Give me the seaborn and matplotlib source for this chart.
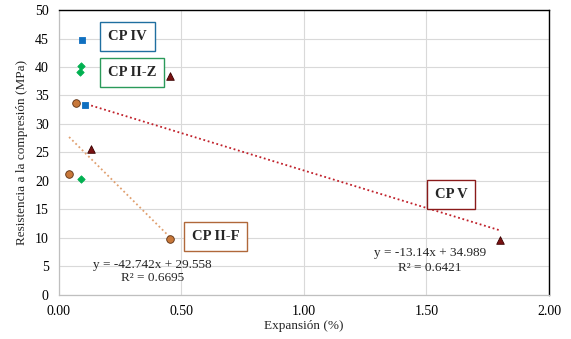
import numpy as np
import pandas as pd
import matplotlib
matplotlib.use("Agg")
import matplotlib.pyplot as plt
import seaborn as sns

# Data: expansion (%) vs. compressive strength (MPa) per cement type
cp_iv_x = [0.095, 0.106]
cp_iv_y = [44.7, 33.3]

cp_iiz_x = [0.091, 0.086, 0.092]
cp_iiz_y = [40.1, 39.2, 20.3]

cp_iif_x = [0.043, 0.072, 0.456]
cp_iif_y = [21.2, 33.7, 9.9]

cp_v_x = [0.133, 0.453, 1.80]
cp_v_y = [25.6, 38.4, 9.6]

# Linear trendlines (slope, intercept, R²)
iif_fit = (-42.742, 29.558, 0.6695)
v_fit = (-13.14, 34.989, 0.6421)

series = ["CP IV", "CP II-Z", "CP II-F", "CP V"]
colors = {"CP IV": "#1070c0", "CP II-Z": "#00b050",
          "CP II-F": "#c8783a", "CP V": "#7a1212"}
edges = {"CP IV": "#1070c0", "CP II-Z": "#00b050",
         "CP II-F": "#5a2e10", "CP V": "#3a0000"}
markers = {"CP IV": "s", "CP II-Z": "D", "CP II-F": "o", "CP V": "^"}
sizes = {"CP IV": 16, "CP II-Z": 14, "CP II-F": 30, "CP V": 30}

df = pd.concat([
    pd.DataFrame({"x": cp_iv_x, "y": cp_iv_y, "tipo": "CP IV"}),
    pd.DataFrame({"x": cp_iiz_x, "y": cp_iiz_y, "tipo": "CP II-Z"}),
    pd.DataFrame({"x": cp_iif_x, "y": cp_iif_y, "tipo": "CP II-F"}),
    pd.DataFrame({"x": cp_v_x, "y": cp_v_y, "tipo": "CP V"}),
], ignore_index=True)

sns.set_style("white")
plt.rcParams["font.family"] = ["Liberation Serif", "DejaVu Serif"]

fig = plt.figure(figsize=(5.71, 3.39), dpi=100)
ax = fig.add_axes([0.1025, 0.1298, 0.859, 0.8407])

# Trendlines drawn from the stated equations over each series' x range
for xs, fit, col in [(cp_iif_x, iif_fit, "#e0a070"), (cp_v_x, v_fit, "#c0202a")]:
    xl = np.array([min(xs), max(xs)])
    sns.lineplot(x=xl, y=fit[0] * xl + fit[1], ax=ax, color=col,
                 linestyle=(0, (1, 1.5)), linewidth=1.3, zorder=2)

for s in series:
    sub = df[df["tipo"] == s]
    sns.scatterplot(data=sub, x="x", y="y", ax=ax, marker=markers[s],
                    s=sizes[s], color=colors[s], edgecolor=edges[s],
                    linewidth=0.6, zorder=3, legend=False)

ax.set_xlim(0, 2.0)
ax.set_ylim(0, 50)
ax.set_xticks(np.arange(0, 2.01, 0.5))
ax.set_xticklabels([f"{v:.2f}" for v in np.arange(0, 2.01, 0.5)])
ax.set_yticks(np.arange(0, 51, 5))
ax.grid(True, color="#d9d9d9", linewidth=0.8)
ax.set_axisbelow(True)
ax.tick_params(axis="y", labelsize=10, length=0, pad=7, colors="#000000")
ax.tick_params(axis="x", labelsize=10, length=0, pad=7, colors="#000000")

for side in ["left", "bottom"]:
    ax.spines[side].set_color("#bfbfbf")
    ax.spines[side].set_linewidth(0.9)
for side in ["top", "right"]:
    ax.spines[side].set_color("#000000")
    ax.spines[side].set_linewidth(1.0)

ax.set_xlabel("Expansión (%)", fontsize=9.5, labelpad=2)
ax.set_ylabel("Resistencia a la compresión (MPa)", fontsize=9.5, labelpad=5)

# Series labels in framed boxes
def label_box(x, y, text, col):
    ax.text(x, y, text, fontsize=10.5, fontweight="bold", ha="center", va="center",
            zorder=5,
            bbox=dict(boxstyle="square,pad=0.55", facecolor="white",
                      edgecolor=col, linewidth=1.0))

label_box(0.280, 45.4, "CP IV", "#1f6fa0")
label_box(0.300, 39.1, "CP II-Z", "#2a9a5a")
label_box(0.640, 10.2, "CP II-F", "#b0683a")
label_box(1.600, 17.7, "CP V", "#8a1a1a")

# Trendline equations
ax.text(0.383, 5.3, f"y = {iif_fit[0]}x + {iif_fit[1]}", fontsize=9.5,
        ha="center", va="center")
ax.text(0.383, 2.9, f"R² = {iif_fit[2]}", fontsize=9.5, ha="center", va="center")
ax.text(1.513, 7.4, f"y = {v_fit[0]}x + {v_fit[1]}", fontsize=9.5,
        ha="center", va="center")
ax.text(1.513, 4.8, f"R² = {v_fit[2]}", fontsize=9.5, ha="center", va="center")

fig.savefig("out.png", dpi=100)
